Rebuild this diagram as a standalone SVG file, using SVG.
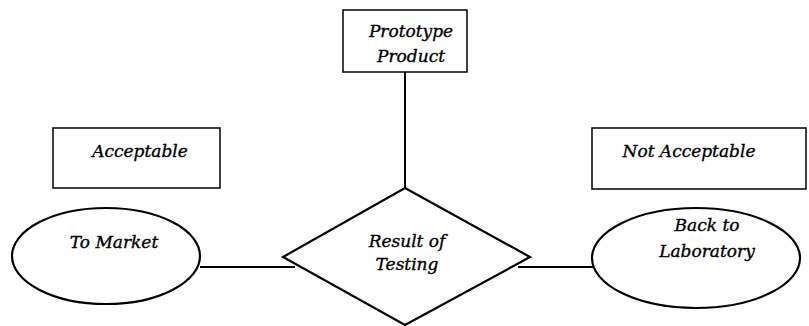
<svg xmlns="http://www.w3.org/2000/svg" width="809" height="326" viewBox="0 0 809 326">
<style>
.box{fill:#fff;stroke:#111;stroke-width:1.6}
.shape{fill:#fff;stroke:#000;stroke-width:2.2}
.conn{stroke:#000;stroke-width:2;fill:none}
text{font-family:"DejaVu Serif","Liberation Serif",serif;font-style:italic;font-size:17px;fill:#000;stroke:#000;stroke-width:0.35;text-anchor:middle}
</style>
<rect width="809" height="326" fill="#fff"/>
<g id="connectors">
<line class="conn" x1="405" y1="72" x2="405" y2="188"/>
<line class="conn" x1="200" y1="267" x2="295" y2="267"/>
<line class="conn" x1="518" y1="267" x2="593" y2="267"/>
</g>
<g id="prototype">
<rect class="box" x="343" y="10" width="124" height="62"/>
<text x="411" y="37">Prototype</text>
<text x="411" y="62">Product</text>
</g>
<g id="acceptable">
<rect class="box" x="53" y="128" width="167" height="60"/>
<text x="140" y="157">Acceptable</text>
</g>
<g id="not-acceptable">
<rect class="box" x="592" y="128" width="214" height="61"/>
<text x="689" y="157">Not Acceptable</text>
</g>
<g id="to-market">
<ellipse class="shape" cx="106" cy="256" rx="94" ry="48"/>
<text x="114" y="248">To Market</text>
</g>
<g id="result">
<polygon class="shape" points="405,188 530,257 405,325 283,257"/>
<text x="407" y="247">Result of</text>
<text x="407" y="270">Testing</text>
</g>
<g id="back-to-lab">
<ellipse class="shape" cx="696" cy="258" rx="104" ry="50"/>
<text x="707" y="231">Back to</text>
<text x="707" y="257">Laboratory</text>
</g>
</svg>
